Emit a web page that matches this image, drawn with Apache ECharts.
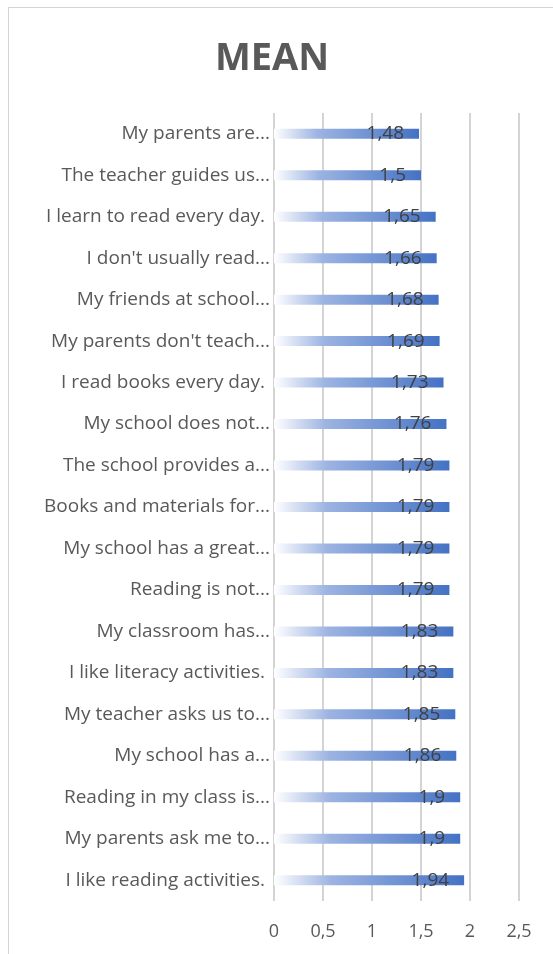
<!DOCTYPE html>
<html>
<head>
<meta charset="utf-8">
<title>MEAN</title>
<script src="https://cdn.jsdelivr.net/npm/echarts@6/dist/echarts.min.js"></script>
<style>
  html, body { margin: 0; padding: 0; background: #fff; }
  #frame {
    position: absolute; left: 8px; top: 7px; width: 560px; height: 960px;
    border-left: 1px solid #d4d4d4; border-top: 1px solid #d4d4d4;
  }
  #chart { position: absolute; left: 0; top: 0; width: 553px; height: 954px; }
</style>
</head>
<body>
<div id="frame"></div>
<div id="chart"></div>
<script>
// survey items, top to bottom as in the picture
const categories = [
  'My parents are...',
  'The teacher guides us...',
  'I learn to read every day. ',
  "I don't usually read...",
  'My friends at school...',
  "My parents don't teach...",
  'I read books every day. ',
  'My school does not...',
  'The school provides a...',
  'Books and materials for...',
  'My school has a great...',
  'Reading is not...',
  'My classroom has...',
  'I like literacy activities. ',
  'My teacher asks us to...',
  'My school has a...',
  'Reading in my class is...',
  'My parents ask me to...',
  'I like reading activities. '
];
const means = [1.48, 1.5, 1.65, 1.66, 1.68, 1.69, 1.73, 1.76, 1.79, 1.79, 1.79, 1.79, 1.83, 1.83, 1.85, 1.86, 1.9, 1.9, 1.94];
const xTicks = [0, 0.5, 1, 1.5, 2, 2.5];

const chart = echarts.init(document.getElementById('chart'));

const option = {
  animation: false,
  title: {
    text: 'MEAN',
    left: 267,
    top: 35,
    textAlign: 'center',
    textStyle: { fontFamily: 'Open Sans', fontSize: 38, fontWeight: 'bold', color: '#595959' }
  },
  grid: { left: 274, right: 34, top: 113, bottom: 53 },
  xAxis: {
    type: 'value',
    min: xTicks[0],
    max: xTicks[xTicks.length - 1],
    interval: 0.5,
    axisLine: { show: false },
    axisTick: { show: false },
    splitLine: { lineStyle: { color: '#d4d4d4', width: 2 } },
    axisLabel: {
      margin: 22,
      fontFamily: 'Open Sans',
      fontSize: 18,
      color: '#595959',
      formatter: v => String(v).replace('.', ',')
    }
  },
  yAxis: {
    type: 'category',
    data: categories,
    inverse: true,
    axisLine: { show: false },
    axisTick: { show: false },
    axisLabel: {
      margin: 4,
      fontFamily: 'Open Sans',
      fontSize: 19,
      color: '#595959'
    }
  },
  series: [{
    type: 'bar',
    data: means,
    barWidth: 10,
    itemStyle: {
      color: new echarts.graphic.LinearGradient(0, 0, 1, 0, [
        { offset: 0, color: '#ffffff' },
        { offset: 0.3, color: '#9db4e2' },
        { offset: 1, color: '#4472c4' }
      ])
    },
    label: {
      show: true,
      position: 'insideRight',
      distance: 15,
      fontFamily: 'Open Sans',
      fontSize: 19,
      color: '#404040',
      formatter: p => String(p.value).replace('.', ',')
    }
  }]
};

chart.setOption(option);
</script>
</body>
</html>
